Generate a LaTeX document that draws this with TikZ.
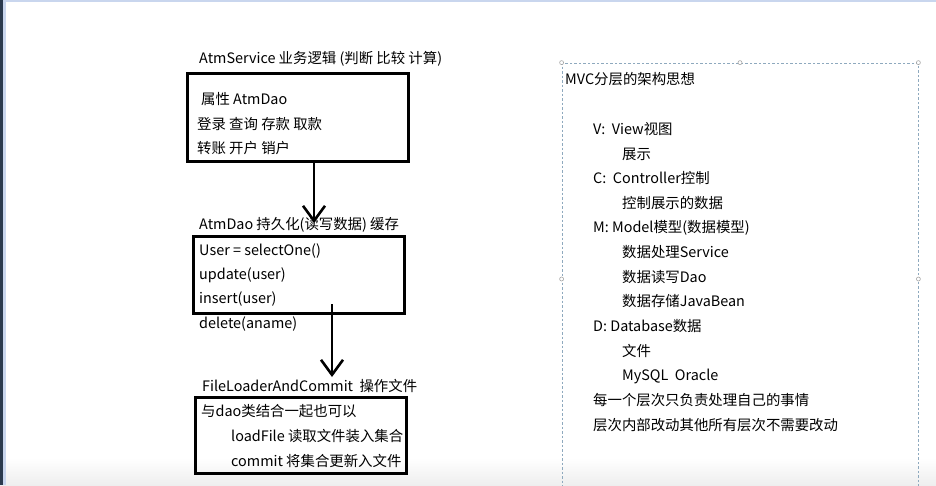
\documentclass[tikz,border=0pt]{standalone}
\usepackage{fontspec}
\setmainfont{Noto Sans CJK SC}
\usetikzlibrary{arrows.meta}
\definecolor{selblue}{HTML}{8EA9BE}
\definecolor{edgenavy}{HTML}{2B3A4E}
\definecolor{edgeblue}{HTML}{C9D6EE}
\tikzset{
    layer box/.style={
        draw,line width=3pt,
        inner sep=0pt
    },
    line/.style={
        anchor=base west,inner sep=0pt,
        font=\fontsize{14.4}{17}\selectfont
    },
    flow/.style={line width=2.6pt,-{Straight Barb[length=15pt,width=22pt]}},
    grip/.style={circle,draw=gray!70,fill=white,inner sep=0pt,minimum size=4pt,line width=.6pt}
}
\begin{document}
\begin{tikzpicture}[x=1pt,y=-1pt]
\useasboundingbox (0,0) rectangle (936,485);
\fill[white] (0,0) rectangle (936,485);
\shade[top color=white,bottom color=gray!13] (0,458) rectangle (936,485);
\fill[edgeblue] (0,0) rectangle (936,1.5);
\fill[edgenavy] (0,0) rectangle (3,485);
\fill[edgeblue] (3,0) rectangle (6,485);

% service layer
\node[line] (svctitle) at (199,63) {AtmService 业务逻辑 (判断 比较 计算)};
\node[layer box,minimum width=221pt,minimum height=88pt] (svcbox) at (297.5,117) {};
\node[line] (svcattr) at (201,104) {属性 AtmDao};
\node[line] (svcops) at (197,129) {登录 查询 存款 取款};
\node[line] (svcacct) at (197,153) {转账 开户 销户};

% dao layer
\node[line] (daotitle) at (199,229) {AtmDao 持久化(读写数据) 缓存};
\node[layer box,minimum width=211pt,minimum height=77pt] (daobox) at (298.5,275) {};
\foreach \i/\y/\t in {1/255/User = selectOne(),2/279/update(user),3/303/insert(user),4/328/delete(aname)}
    \node[line] (daoop\i) at (199,\y) {\t};

% file layer
\node[line] (filetitle) at (202,391) {FileLoaderAndCommit\ \ 操作文件};
\node[layer box,minimum width=211pt,minimum height=76pt] (filebox) at (300.5,435) {};
\node[line] (filenote) at (201,416) {与dao类结合一起也可以};
\node[line] (fileload) at (231,441) {loadFile 读取文件装入集合};
\node[line] (filecommit) at (231,466) {commit 将集合更新入文件};

\coordinate (tip1) at (314,223);
\coordinate (tip2) at (332,377);
\draw[flow] (svcbox.south -| tip1) -- (tip1);
\draw[flow] (daobox.south -| tip2) ++(0,-11) -- (tip2);

% mvc notes
\node[draw=selblue,line width=.8pt,dash pattern=on 2.5pt off 2pt,
      minimum width=356pt,minimum height=432pt] (mvcbox) at (740,279) {};
\foreach \a in {north west,north,north east,west,east}
    \node[grip] (grip-\a) at (mvcbox.\a) {};
\foreach \i/\x/\y/\t in {1/565/84/MVC分层的架构思想,
    2/593/134/V:\ \ View视图,3/622/159/展示,
    4/593/183/C:\ \ Controller控制,5/622/208/控制展示的数据,
    6/593/232/M: Model模型(数据模型),7/622/257/数据处理Service,
    8/622/282/数据读写Dao,9/622/306/数据存储JavaBean,
    10/593/331/D: Database数据,11/622/356/文件,
    12/622/380/MySQL\ \ Oracle,13/593/405/每一个层次只负责处理自己的事情,
    14/593/430/层次内部改动其他所有层次不需要改动}
    \node[line] (mvc\i) at (\x,\y) {\t};
\end{tikzpicture}
\end{document}
